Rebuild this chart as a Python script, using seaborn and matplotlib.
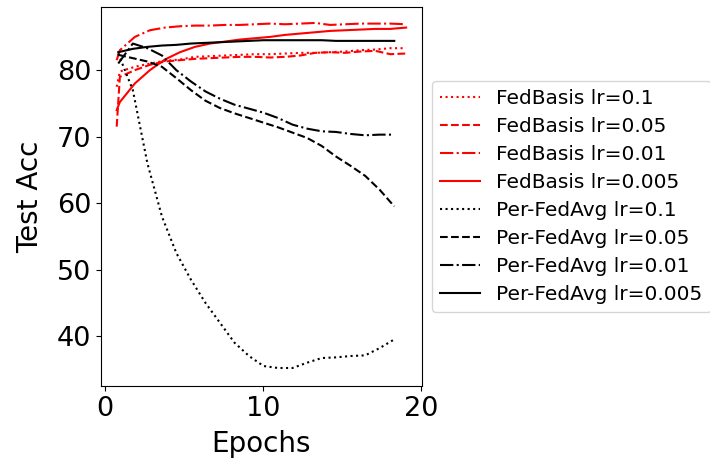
import matplotlib
matplotlib.use("Agg")
import matplotlib.pyplot as plt
import seaborn as sns

# ---- data ----
fb_epochs = [0.75, 0.95, 1.9, 2.85, 3.8, 4.75, 5.7, 6.65, 7.6, 8.55, 9.5,
             10.45, 11.4, 12.35, 13.3, 14.25, 15.2, 16.15, 17.1, 18.05, 19.05]
fb_lr01 = [77.5, 79.8, 80.5, 81.0, 81.4, 81.6, 82.0, 82.1, 82.2, 82.3, 82.4,
           82.4, 82.5, 82.6, 82.6, 82.7, 82.8, 83.0, 83.1, 83.3, 83.3]
fb_lr005 = [71.5, 79.0, 80.0, 80.8, 81.3, 81.5, 81.7, 81.8, 81.9, 82.0, 82.0,
            81.9, 82.0, 82.2, 82.6, 82.7, 82.6, 82.8, 82.9, 82.4, 82.5]
fb_lr001 = [81.5, 83.0, 85.0, 86.0, 86.4, 86.6, 86.7, 86.7, 86.8, 86.8, 86.9,
            87.0, 86.9, 87.0, 87.1, 86.8, 86.9, 87.0, 87.0, 87.0, 86.9]
fb_lr0005 = [74.0, 75.2, 78.0, 80.0, 81.6, 82.7, 83.5, 84.0, 84.3, 84.6, 84.8,
             85.0, 85.3, 85.5, 85.7, 85.9, 86.0, 86.1, 86.2, 86.2, 86.4]

pf_epochs = [0.85, 1.77, 2.69, 3.61, 4.52, 5.44, 6.36, 7.28, 8.20, 9.12,
             10.03, 10.95, 11.87, 12.79, 13.71, 14.62, 15.54, 16.46, 17.38, 18.30]
pf_lr01 = [82.5, 77.0, 66.0, 58.0, 52.5, 48.5, 45.0, 42.0, 39.0, 37.0,
           35.5, 35.2, 35.2, 36.0, 36.7, 36.8, 37.0, 37.1, 38.2, 39.5]
pf_lr005 = [82.3, 81.8, 81.3, 80.5, 78.8, 77.0, 75.4, 74.3, 73.5, 72.8,
            72.1, 71.4, 70.6, 69.8, 68.6, 67.0, 65.6, 64.1, 62.0, 59.5]
pf_lr001 = [81.0, 84.0, 83.3, 82.2, 80.0, 78.3, 76.8, 75.7, 74.8, 74.2,
            73.6, 72.8, 71.8, 71.2, 70.8, 70.7, 70.4, 70.2, 70.3, 70.3]
pf_lr0005 = [82.7, 83.2, 83.5, 83.7, 83.8, 84.0, 84.1, 84.2, 84.3, 84.4,
             84.5, 84.5, 84.5, 84.5, 84.5, 84.4, 84.4, 84.4, 84.4, 84.4]

series = [
    ("FedBasis lr=0.1", fb_epochs, fb_lr01, "red", ":"),
    ("FedBasis lr=0.05", fb_epochs, fb_lr005, "red", "--"),
    ("FedBasis lr=0.01", fb_epochs, fb_lr001, "red", "-."),
    ("FedBasis lr=0.005", fb_epochs, fb_lr0005, "red", "-"),
    ("Per-FedAvg lr=0.1", pf_epochs, pf_lr01, "black", ":"),
    ("Per-FedAvg lr=0.05", pf_epochs, pf_lr005, "black", "--"),
    ("Per-FedAvg lr=0.01", pf_epochs, pf_lr001, "black", "-."),
    ("Per-FedAvg lr=0.005", pf_epochs, pf_lr0005, "black", "-"),
]

fig = plt.figure(figsize=(7.1, 4.65), dpi=100)
ax = fig.add_axes([0.1423, 0.170, 0.452, 0.815])

for label, xs, ys, col, ls in series:
    sns.lineplot(x=xs, y=ys, ax=ax, color=col, linestyle=ls, linewidth=1.5,
                 label=label, legend=True)

ax.set_xlim(-0.24, 20.05)
ax.set_ylim(32.5, 89.5)
ax.set_xticks([0, 10, 20])
ax.set_yticks([40, 50, 60, 70, 80])
ax.tick_params(labelsize=19.5)
ax.set_xlabel("Epochs", fontsize=20, labelpad=6)
ax.set_ylabel("Test Acc", fontsize=20, labelpad=9)
ax.legend(loc="center left", bbox_to_anchor=(1.0, 0.5), fontsize=14.5,
          labelspacing=0.45, handlelength=2.0)

fig.savefig("out.png", dpi=100)
